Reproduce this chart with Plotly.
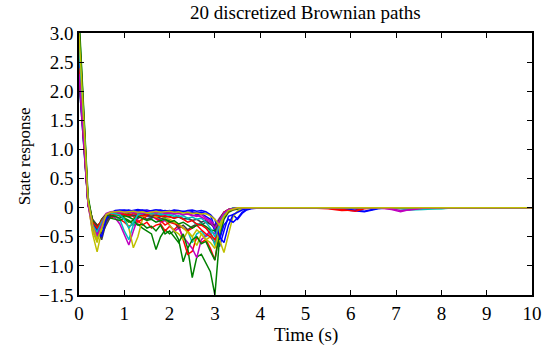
import plotly.graph_objects as go

# Shared time grid (s)
time_s = [0.0, 0.1, 0.2, 0.3, 0.4, 0.5, 0.6, 0.7, 0.8, 0.9,
          1.0, 1.1, 1.2, 1.3, 1.4, 1.5, 1.6, 1.7, 1.8, 1.9,
          2.0, 2.1, 2.2, 2.3, 2.4, 2.5, 2.6, 2.7, 2.8, 2.9,
          3.0, 3.1, 3.2, 3.3, 3.4, 3.5, 3.6, 3.7, 3.8, 3.9,
          4.0, 4.5, 5.0, 5.5, 5.8, 6.1, 6.3, 6.6, 6.9, 7.1, 7.3, 7.6, 8.0, 8.3, 10.0]

path_01 = [2.20, 1.10, 0.05, -0.30, -0.38, -0.46, -0.22, -0.10, -0.08, -0.06,
           -0.07, -0.05, -0.08, -0.06, -0.05, -0.07, -0.06, -0.04, -0.06, -0.05,
           -0.06, -0.04, -0.05, -0.07, -0.05, -0.04, -0.06, -0.05, -0.07, -0.12,
           -0.35, -0.67, -0.40, -0.15, -0.12, -0.20, -0.10, -0.04, -0.02, -0.01,
           0.00, 0.00, 0.00, -0.01, -0.03, -0.05, -0.07, -0.02, 0.00, 0.00, 0.00, 0.00, 0.00, 0.00, 0.00]
path_02 = [3.30, 1.70, 0.20, -0.25, -0.40, -0.30, -0.18, -0.15, -0.12, -0.14,
           -0.18, -0.22, -0.30, -0.28, -0.35, -0.40, -0.45, -0.72, -0.50, -0.38,
           -0.45, -0.40, -0.55, -0.93, -0.70, -1.20, -0.85, -0.80, -0.95, -1.10,
           -1.50, -0.55, -0.20, -0.08, -0.04, -0.02, -0.01, 0.00, 0.00, 0.00,
           0.00, 0.00, 0.00, 0.00, 0.00, 0.00, 0.00, 0.00, 0.00, 0.00, 0.00, 0.00, 0.00, 0.00, 0.00]
path_03 = [2.90, 1.45, 0.10, -0.30, -0.45, -0.35, -0.20, -0.18, -0.15, -0.20,
           -0.25, -0.32, -0.28, -0.22, -0.30, -0.25, -0.35, -0.30, -0.28, -0.40,
           -0.32, -0.38, -0.30, -0.55, -0.80, -0.75, -0.50, -0.60, -0.55, -0.70,
           -0.90, -0.40, -0.15, -0.06, -0.03, -0.01, 0.00, 0.00, 0.00, 0.00,
           0.00, 0.00, 0.00, 0.00, 0.00, 0.00, 0.00, 0.00, 0.00, 0.00, 0.00, 0.00, 0.00, 0.00, 0.00]
path_04 = [2.70, 1.35, 0.10, -0.35, -0.50, -0.30, -0.15, -0.12, -0.14, -0.20,
           -0.40, -0.55, -0.30, -0.15, -0.12, -0.14, -0.18, -0.15, -0.20, -0.18,
           -0.22, -0.25, -0.30, -0.35, -0.40, -0.60, -0.45, -0.40, -0.50, -0.45,
           -0.62, -0.30, -0.10, -0.05, -0.02, 0.00, 0.00, 0.00, 0.00, 0.00,
           0.00, 0.00, 0.00, 0.00, 0.00, 0.00, 0.00, 0.00, 0.00, -0.02, -0.04, -0.03, -0.02, 0.00, 0.00]
path_05 = [2.50, 1.25, 0.05, -0.40, -0.55, -0.35, -0.15, -0.12, -0.18, -0.28,
           -0.45, -0.64, -0.40, -0.18, -0.12, -0.15, -0.14, -0.20, -0.25, -0.22,
           -0.30, -0.41, -0.35, -0.50, -0.60, -0.70, -0.86, -0.55, -0.48, -0.40,
           -0.45, -0.25, -0.10, -0.04, -0.02, 0.00, 0.00, 0.00, 0.00, 0.00,
           0.00, 0.00, 0.00, 0.00, 0.00, 0.00, 0.00, 0.00, 0.00, 0.00, 0.00, 0.00, 0.00, 0.00, 0.00]
path_06 = [3.00, 1.50, 0.10, -0.45, -0.76, -0.40, -0.15, -0.10, -0.12, -0.10,
           -0.15, -0.35, -0.69, -0.50, -0.20, -0.12, -0.10, -0.14, -0.12, -0.20,
           -0.30, -0.40, -0.45, -0.55, -0.40, -0.50, -0.65, -0.45, -0.55, -0.50,
           -0.60, -0.55, -0.77, -0.45, -0.15, -0.06, -0.02, 0.00, 0.00, 0.00,
           0.00, 0.00, 0.00, 0.00, 0.00, 0.00, 0.00, 0.00, 0.00, 0.00, 0.00, 0.00, 0.00, 0.00, 0.00]
path_07 = [2.40, 1.20, 0.05, -0.25, -0.35, -0.55, -0.25, -0.12, -0.10, -0.14,
           -0.12, -0.15, -0.13, -0.18, -0.15, -0.20, -0.17, -0.15, -0.18, -0.20,
           -0.22, -0.25, -0.35, -0.30, -0.38, -0.32, -0.28, -0.30, -0.25, -0.28,
           -0.35, -0.20, -0.08, -0.04, -0.02, 0.00, 0.00, 0.00, 0.00, 0.00,
           0.00, 0.00, 0.00, 0.00, 0.00, 0.00, 0.00, 0.00, 0.00, 0.00, 0.00, 0.00, 0.00, 0.00, 0.00]
path_08 = [2.30, 1.15, 0.08, -0.25, -0.30, -0.35, -0.15, -0.08, -0.06, -0.05,
           -0.04, -0.06, -0.05, -0.03, -0.05, -0.04, -0.06, -0.05, -0.04, -0.06,
           -0.05, -0.07, -0.06, -0.08, -0.10, -0.08, -0.12, -0.10, -0.15, -0.20,
           -0.40, -0.55, -0.30, -0.20, -0.25, -0.18, -0.08, -0.03, -0.01, 0.00,
           0.00, 0.00, 0.00, 0.00, 0.00, 0.00, 0.00, 0.00, 0.00, 0.00, 0.00, 0.00, 0.00, 0.00, 0.00]
path_09 = [2.80, 1.40, 0.12, -0.28, -0.40, -0.25, -0.15, -0.18, -0.20, -0.22,
           -0.18, -0.25, -0.22, -0.30, -0.28, -0.35, -0.32, -0.40, -0.30, -0.45,
           -0.40, -0.50, -0.60, -0.45, -0.70, -0.55, -0.50, -0.62, -0.58, -0.75,
           -0.90, -0.45, -0.12, -0.05, -0.02, 0.00, 0.00, 0.00, 0.00, 0.00,
           0.00, 0.00, 0.00, 0.00, 0.00, 0.00, 0.00, 0.00, 0.00, 0.00, 0.00, 0.00, 0.00, 0.00, 0.00]
path_10 = [3.10, 1.55, 0.12, -0.22, -0.30, -0.25, -0.12, -0.10, -0.08, -0.10,
           -0.09, -0.12, -0.15, -0.25, -0.20, -0.14, -0.12, -0.18, -0.22, -0.30,
           -0.25, -0.28, -0.30, -0.35, -0.40, -0.35, -0.30, -0.38, -0.45, -0.50,
           -0.60, -0.30, -0.10, -0.04, -0.02, 0.00, 0.00, 0.00, 0.00, 0.00,
           0.00, 0.00, 0.00, -0.02, -0.05, -0.04, -0.01, 0.00, 0.00, 0.00, 0.00, 0.00, 0.00, 0.00, 0.00]
path_11 = [2.60, 1.30, 0.08, -0.25, -0.35, -0.28, -0.12, -0.08, -0.10, -0.09,
           -0.08, -0.10, -0.12, -0.09, -0.11, -0.10, -0.08, -0.12, -0.10, -0.13,
           -0.12, -0.15, -0.14, -0.18, -0.20, -0.22, -0.30, -0.25, -0.35, -0.40,
           -0.65, -0.35, -0.10, -0.04, -0.01, 0.00, 0.00, 0.00, 0.00, 0.00,
           0.00, 0.00, 0.00, 0.00, 0.00, 0.00, 0.00, 0.00, 0.00, 0.00, 0.00, -0.01, -0.02, 0.00, 0.00]
path_12 = [2.50, 1.25, 0.06, -0.30, -0.45, -0.20, -0.10, -0.07, -0.06, -0.08,
           -0.07, -0.09, -0.06, -0.08, -0.07, -0.05, -0.08, -0.06, -0.07, -0.09,
           -0.08, -0.10, -0.09, -0.12, -0.10, -0.13, -0.15, -0.12, -0.18, -0.22,
           -0.30, -0.18, -0.08, -0.03, -0.01, 0.00, 0.00, 0.00, 0.00, 0.00,
           0.00, 0.00, 0.00, 0.00, 0.00, 0.00, 0.00, 0.00, -0.03, -0.07, -0.03, 0.00, 0.00, 0.00, 0.00]
path_13 = [2.90, 1.45, 0.10, -0.40, -0.60, -0.30, -0.12, -0.10, -0.13, -0.11,
           -0.12, -0.10, -0.14, -0.12, -0.15, -0.13, -0.12, -0.16, -0.14, -0.18,
           -0.20, -0.25, -0.28, -0.35, -0.42, -0.50, -0.38, -0.45, -0.55, -0.60,
           -0.70, -0.40, -0.12, -0.04, -0.01, 0.00, 0.00, 0.00, 0.00, 0.00,
           0.00, 0.00, 0.00, 0.00, 0.00, 0.00, 0.00, 0.00, 0.00, 0.00, 0.00, 0.00, 0.00, 0.00, 0.00]
path_14 = [2.20, 1.10, 0.05, -0.20, -0.30, -0.45, -0.30, -0.15, -0.12, -0.10,
           -0.12, -0.11, -0.14, -0.12, -0.10, -0.13, -0.15, -0.12, -0.14, -0.16,
           -0.15, -0.18, -0.16, -0.20, -0.18, -0.22, -0.20, -0.25, -0.22, -0.28,
           -0.30, -0.25, -0.12, -0.05, -0.02, 0.00, 0.00, 0.00, 0.00, 0.00,
           0.00, 0.00, 0.00, 0.00, 0.00, 0.00, 0.00, 0.00, 0.00, 0.00, 0.00, 0.00, 0.00, 0.00, 0.00]
path_15 = [2.60, 1.30, 0.08, -0.28, -0.40, -0.50, -0.20, -0.10, -0.05, -0.04,
           -0.05, -0.04, -0.06, -0.05, -0.04, -0.06, -0.05, -0.04, -0.05, -0.07,
           -0.06, -0.05, -0.07, -0.06, -0.08, -0.07, -0.09, -0.08, -0.10, -0.12,
           -0.20, -0.50, -0.60, -0.30, -0.12, -0.08, -0.04, -0.02, 0.00, 0.00,
           0.00, 0.00, 0.00, 0.00, -0.02, -0.04, -0.06, -0.01, 0.00, 0.00, 0.00, 0.00, 0.00, 0.00, 0.00]
path_16 = [3.20, 1.60, 0.15, -0.22, -0.35, -0.20, -0.12, -0.14, -0.15, -0.18,
           -0.14, -0.16, -0.20, -0.15, -0.18, -0.22, -0.20, -0.25, -0.22, -0.20,
           -0.25, -0.22, -0.28, -0.25, -0.30, -0.35, -0.30, -0.28, -0.32, -0.38,
           -0.40, -0.20, -0.08, -0.03, -0.01, 0.00, 0.00, 0.00, 0.00, 0.00,
           0.00, 0.00, 0.00, 0.00, 0.00, 0.00, 0.00, 0.00, 0.00, 0.00, 0.00, 0.00, 0.00, 0.00, 0.00]
path_17 = [2.40, 1.20, 0.06, -0.25, -0.35, -0.22, -0.12, -0.10, -0.12, -0.10,
           -0.11, -0.13, -0.10, -0.12, -0.14, -0.12, -0.10, -0.13, -0.15, -0.14,
           -0.16, -0.18, -0.15, -0.20, -0.25, -0.22, -0.28, -0.30, -0.35, -0.45,
           -0.55, -0.25, -0.08, -0.03, -0.01, 0.00, 0.00, 0.00, 0.00, 0.00,
           0.00, 0.00, 0.00, 0.00, -0.03, -0.06, -0.02, 0.00, 0.00, 0.00, 0.00, 0.00, 0.00, 0.00, 0.00]
path_18 = [2.80, 1.40, 0.10, -0.30, -0.42, -0.25, -0.12, -0.09, -0.10, -0.12,
           -0.20, -0.35, -0.25, -0.12, -0.10, -0.09, -0.11, -0.10, -0.12, -0.11,
           -0.13, -0.12, -0.15, -0.14, -0.18, -0.16, -0.20, -0.18, -0.25, -0.35,
           -0.50, -0.30, -0.10, -0.04, -0.01, 0.00, 0.00, 0.00, 0.00, 0.00,
           0.00, 0.00, 0.00, 0.00, 0.00, 0.00, 0.00, 0.00, 0.00, 0.00, 0.00, 0.00, 0.00, 0.00, 0.00]
path_19 = [2.30, 1.15, 0.05, -0.32, -0.48, -0.30, -0.12, -0.08, -0.07, -0.09,
           -0.08, -0.07, -0.09, -0.08, -0.10, -0.09, -0.07, -0.09, -0.08, -0.10,
           -0.09, -0.11, -0.10, -0.12, -0.11, -0.14, -0.13, -0.16, -0.20, -0.25,
           -0.35, -0.22, -0.09, -0.03, -0.01, 0.00, 0.00, 0.00, 0.00, 0.00,
           0.00, 0.00, 0.00, 0.00, 0.00, 0.00, 0.00, 0.00, -0.02, -0.05, -0.04, -0.01, 0.00, 0.00, 0.00]
path_20 = [3.00, 1.50, 0.12, -0.30, -0.55, -0.35, -0.12, -0.08, -0.07, -0.06,
           -0.08, -0.07, -0.06, -0.08, -0.07, -0.09, -0.08, -0.06, -0.08, -0.07,
           -0.06, -0.08, -0.07, -0.09, -0.08, -0.10, -0.09, -0.11, -0.10, -0.14,
           -0.20, -0.30, -0.15, -0.05, -0.02, 0.00, 0.00, 0.00, 0.00, 0.00,
           0.00, 0.00, 0.00, 0.00, 0.00, 0.00, 0.00, 0.00, 0.00, 0.00, 0.00, 0.00, 0.00, 0.00, 0.00]

paths = [path_01, path_02, path_03, path_04, path_05, path_06, path_07,
         path_08, path_09, path_10, path_11, path_12, path_13, path_14,
         path_15, path_16, path_17, path_18, path_19, path_20]

color_cycle = ["#0000ff", "#008000", "#ff0000", "#00bfbf", "#bf00bf", "#bfbf00", "#404040"]

y_tickvals = [-1.5, -1.0, -0.5, 0, 0.5, 1.0, 1.5, 2.0, 2.5, 3.0]
y_ticktext = ["\u22121.5", "\u22121.0", "\u22120.5", "0", "0.5", "1.0", "1.5", "2.0", "2.5", "3.0"]
x_tickvals = [0, 1, 2, 3, 4, 5, 6, 7, 8, 9, 10]

FONT = "Liberation Serif"

fig = go.Figure()
for i, p in enumerate(paths):
    fig.add_trace(go.Scatter(x=time_s, y=p, mode="lines",
                             line=dict(color=color_cycle[i % len(color_cycle)], width=1.5),
                             showlegend=False, hoverinfo="skip"))

axis_common = dict(showgrid=False, zeroline=False, showline=True, linecolor="black",
                   linewidth=1.5, mirror="ticks", ticks="inside", ticklen=5,
                   tickcolor="black", tickwidth=1, automargin=False,
                   tickfont=dict(family=FONT, size=19, color="black"))

fig.update_layout(
    width=542, height=345,
    margin=dict(l=79, r=10, t=33, b=50, autoexpand=False),
    paper_bgcolor="white", plot_bgcolor="white",
    font=dict(family=FONT, color="black"),
    xaxis=dict(range=[0, 10], tickvals=x_tickvals, **axis_common),
    yaxis=dict(range=[-1.5, 3.0], tickvals=y_tickvals, ticktext=y_ticktext, **axis_common),
    annotations=[
        dict(text="20 discretized Brownian paths", x=0.5, xref="paper", y=1, yref="paper",
             yshift=21, xanchor="center", yanchor="middle", showarrow=False,
             font=dict(family=FONT, size=19, color="black")),
        dict(text="Time (s)", x=0.5, xref="paper", y=0, yref="paper", yshift=-40,
             xanchor="center", yanchor="middle", showarrow=False,
             font=dict(family=FONT, size=19, color="black")),
        dict(text="State response", x=0, xref="paper", xshift=-55, y=0.53, yref="paper",
             textangle=-90, xanchor="center", yanchor="middle", showarrow=False,
             font=dict(family=FONT, size=17, color="black")),
    ],
)

fig.write_html("out.html", config={"displayModeBar": False},
               post_script="document.body.style.margin='0';document.body.style.overflow='hidden';")
